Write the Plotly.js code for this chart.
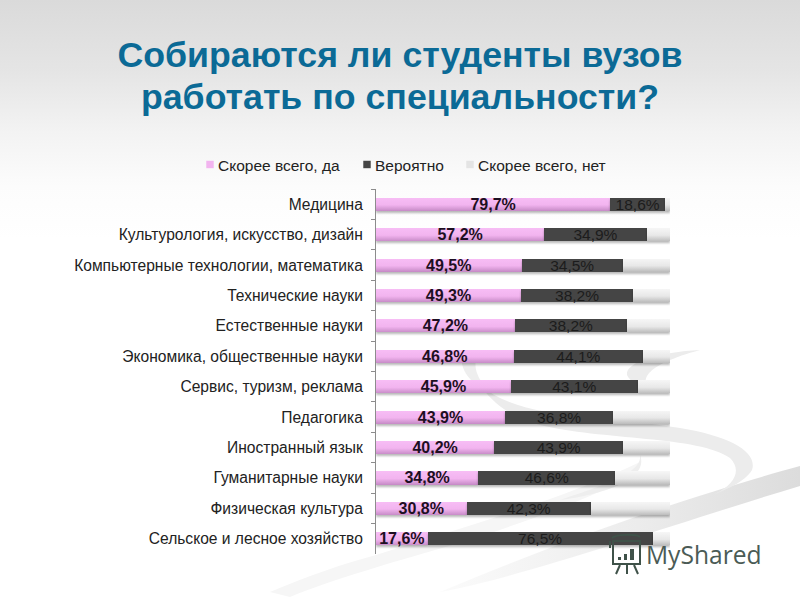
<!DOCTYPE html>
<html><head><meta charset="utf-8">
<script src="https://cdn.plot.ly/plotly-3.0.1.min.js"></script>
<style>
html,body{margin:0;padding:0;width:800px;height:600px;overflow:hidden;background:#fff}
#bg{position:absolute;left:0;top:0;width:800px;height:600px}
#logo{position:absolute;left:0;top:0;width:800px;height:600px;pointer-events:none}
#chart{position:absolute;left:0;top:0;width:800px;height:600px}
.barlayer .trace:nth-child(1) .point path{fill:url(#gPink)!important}
.barlayer .trace:nth-child(3) .point path{fill:url(#gGrey)!important}
.barlayer .point path{filter:drop-shadow(0 2px 1px rgba(0,0,0,.28))}
.legendpoints path{transform:translate(32px,0) scale(.62)}
</style></head><body>
<svg id="bg" viewBox="0 0 800 600">
<defs>
<linearGradient id="gBack" x1="0" y1="0" x2="0" y2="1">
<stop offset="0" stop-color="#dadada"/><stop offset=".12" stop-color="#e5e5e5"/><stop offset=".22" stop-color="#f3f3f3"/><stop offset=".31" stop-color="#fcfcfc"/><stop offset=".4" stop-color="#ffffff"/></linearGradient>
<linearGradient id="gWedge" x1="1" y1="0" x2="0" y2="0">
<stop offset="0" stop-color="#dcdcdc"/><stop offset=".45" stop-color="#ececec"/><stop offset="1" stop-color="#fbfbfb"/></linearGradient>
<linearGradient id="gPink" x1="0" y1="0" x2="0" y2="1">
<stop offset="0" stop-color="#f7bdf5"/><stop offset=".55" stop-color="#f2b4ef"/><stop offset="1" stop-color="#c88cc8"/></linearGradient>
<linearGradient id="gGrey" x1="0" y1="0" x2="0" y2="1">
<stop offset="0" stop-color="#f6f6f6"/><stop offset=".55" stop-color="#e8e8e8"/><stop offset="1" stop-color="#bdbdbd"/></linearGradient>
</defs>
<rect width="800" height="600" fill="url(#gBack)"/>
<path d="M270,592 C310,575 340,565 376,555 C450,530 550,505 640,462 C640,480 560,510 470,540 C400,560 330,580 290,597 Z" fill="#f6f6f6"/>
<path d="M800,466 C720,488 600,525 440,592 C520,578 680,522 800,486 Z" fill="url(#gWedge)"/>
<path d="M480,385 C520,420 600,415 680,428 C730,436 758,452 752,470 C745,482 725,490 715,494 C735,484 742,470 730,458 C700,436 600,440 540,425 C510,418 490,400 480,385 Z" fill="#ececec"/>
<path d="M700,350 C660,352 625,362 627,375 C630,382 640,386 650,388 C640,380 645,365 700,350 Z" fill="#ececec"/>
<path d="M640,455 C642,470 620,480 560,500 C600,495 650,480 640,455 Z" fill="#eeeeee"/>
<path d="M465,350 C455,365 470,385 490,392 C478,380 470,365 480,350 Z" fill="#eeeeee"/>
</svg>
<div id="chart"></div>
<svg id="logo" viewBox="0 0 800 600">
<g fill="none" stroke="#3f5249" stroke-width="2">
<rect x="613" y="541" width="27" height="23"/>
<path d="M610,541 V548 M612,538 C616,534 636,534 640,537"/>
<path d="M620,565 L616,574 M627,565 V574 M634,565 L638,574"/>
</g>
<g fill="#3f5249"><rect x="618" y="557" width="3" height="3"/><rect x="624" y="554" width="3" height="6"/><rect x="630" y="549" width="4" height="11"/></g>
</svg>
<script>
var categories=["Медицина","Культурология, искусство, дизайн","Компьютерные технологии, математика","Технические науки","Естественные науки","Экономика, общественные науки","Сервис, туризм, реклама","Педагогика","Иностранный язык","Гуманитарные науки","Физическая культура","Сельское и лесное хозяйство"];
var likelyYes=[79.7,57.2,49.5,49.3,47.2,46.8,45.9,43.9,40.2,34.8,30.8,17.6];
var probably=[18.6,34.9,34.5,38.2,38.2,44.1,43.1,36.8,43.9,46.6,42.3,76.5];
var likelyNo=[1.7,7.9,16.0,12.5,14.6,9.1,11.0,19.3,15.9,18.6,26.9,5.9];
var seriesNames=["Скорее всего, да","Вероятно","Скорее всего, нет"];
var legendTextLeft=[218,375,478];
var FONT='"Liberation Sans", Arial, sans-serif';
function pct(a){return a.map(function(v){return v.toFixed(1).replace('.',',')+'%';});}
var traces=[
{type:'bar',orientation:'h',name:seriesNames[0],y:categories,x:likelyYes,marker:{color:'#f2b4ef'},text:pct(likelyYes),textposition:'inside',insidetextanchor:'middle',textangle:0,constraintext:'none',insidetextfont:{family:FONT,size:16,color:'#1d0f22',weight:700},hoverinfo:'skip'},
{type:'bar',orientation:'h',name:seriesNames[1],y:categories,x:probably,marker:{color:'#454545'},text:pct(probably),textposition:'inside',insidetextanchor:'middle',textangle:0,constraintext:'none',insidetextfont:{family:FONT,size:15.5,color:'#1c1c1c'},hoverinfo:'skip'},
{type:'bar',orientation:'h',name:seriesNames[2],y:categories,x:likelyNo,marker:{color:'#e4e4e4'},hoverinfo:'skip'}
];
var layout={
width:800,height:600,autosize:false,
paper_bgcolor:'rgba(0,0,0,0)',plot_bgcolor:'rgba(0,0,0,0)',
font:{family:FONT,color:'#222'},
margin:{l:376,r:130,t:189,b:46,pad:0},
barmode:'stack',bargap:0.57,
title:{text:'<b>Собираются ли студенты вузов<br>работать по специальности?</b>',x:0.5,xanchor:'center',y:0.888,yanchor:'top',font:{family:FONT,size:35.7,color:'#0b6a96'}},
xaxis:{range:[0,100],visible:false,fixedrange:true},
yaxis:{type:'category',autorange:'reversed',showgrid:false,showline:true,linecolor:'#8c8c8c',linewidth:1,ticks:'outside',ticklen:4,tickcolor:'#8c8c8c',tickson:'boundaries',ticklabelstandoff:9,tickfont:{family:FONT,size:15.6,color:'#222'},fixedrange:true},
legend:{orientation:'h',x:-0.7,xanchor:'left',y:1.066,yanchor:'middle',traceorder:'normal',font:{family:FONT,size:15.5,color:'#222'},bgcolor:'rgba(0,0,0,0)',itemclick:false,itemdoubleclick:false},
showlegend:true
};
layout.annotations=[{xref:'paper',yref:'paper',x:1.32,y:0,xanchor:'right',yanchor:'middle',text:'MyShared',showarrow:false,font:{family:'"Open Sans", sans-serif',size:24.6,color:'#4b5b55'}}];
Plotly.newPlot('chart',traces,layout,{displayModeBar:false,staticPlot:true}).then(function(){
  document.querySelectorAll('.gtitle tspan.line').forEach(function(t,i){ if(i>0) t.setAttribute('dy','1.17em'); });
  document.querySelectorAll('.legend .traces').forEach(function(g,i){
    var m=/translate\(([-\d.]+),\s*([-\d.]+)\)/.exec(g.getAttribute('transform'));
    var txt=g.querySelector('.legendtext');
    if(!m||!txt) return;
    var dx=legendTextLeft[i]-txt.getBoundingClientRect().left;
    g.setAttribute('transform','translate('+(parseFloat(m[1])+dx)+','+m[2]+')');
  });
  var clip=document.querySelector('.legend .scrollbox');
  if(clip) clip.removeAttribute('clip-path');
});
</script>
</body></html>
